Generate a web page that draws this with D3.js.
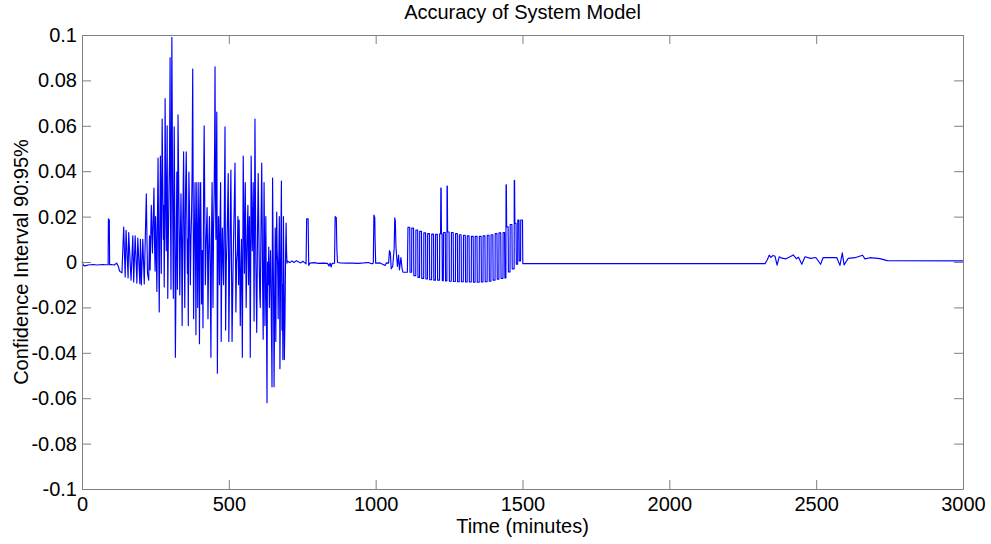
<!DOCTYPE html>
<html>
<head>
<meta charset="utf-8">
<script src="https://cdn.jsdelivr.net/npm/d3@7/dist/d3.min.js"></script>
<style>
    body { margin: 0; background: #fff; }
    text { font-family: "Liberation Sans", Arial, Helvetica, sans-serif; fill: #000; }
</style>
</head>
<body>
<div id="canvas"></div>
<script>
// chart text
var titleText = "Accuracy of System Model";
var xLabelText = "Time (minutes)";
var yLabelText = "Confidence Interval 90:95%";

// ticks
var xTicks = [0, 500, 1000, 1500, 2000, 2500, 3000];
var xTickLabels = ["0", "500", "1000", "1500", "2000", "2500", "3000"];
var yTicks = [-0.1, -0.08, -0.06, -0.04, -0.02, 0, 0.02, 0.04, 0.06, 0.08, 0.1];
var yTickLabels = ["-0.1", "-0.08", "-0.06", "-0.04", "-0.02", "0", "0.02", "0.04", "0.06", "0.08", "0.1"];

// series, [minutes, value]
var startSegment = [[0,0.0002],[5,-0.0015],[10,-0.0017],[20,-0.0013],[30,-0.0012],[40,-0.0011],[50,-0.0013],
    [60,-0.0012],[70,-0.0011],[80,-0.0012],[89,-0.0012],[90,0.019],[93,0.0185],[94,-0.0012],[100,-0.0011],
    [110,-0.0013],[118,-0.0005],[124,-0.002],[128,-0.004],[136,-0.0048]];

var earlyBusySegment = [[142,0.0154],[147,-0.0066],[150,0.014],[157,-0.007],[159,0.013],[167,-0.008],[173,0.0115],
    [176,-0.0088],[181,0.0115],[187,-0.0093],[190,0.0105],[197,-0.0095],[199,0.010],[202,-0.0101],[207,0.010],
    [212,-0.0097],[219,0.030],[223,-0.005],[227,-0.008],[230,0.0115],[232,-0.0035],[236,0.025],[240,0.004]];

var busySegment = [[245,0.0326],[247,0.008],[249,-0.004],[250.5,0.02],[252,0.013],[253.5,0.0],[255,-0.013],
    [257,0.02],[259,0.0458],[261,0.01],[263,-0.022],[265,0.015],[267,0.0467],[268.5,0.025],[270,-0.005],
    [271.5,0.03],[273,0.063],[275,0.035],[277,0.01],[278.5,0.025],[280,-0.011],[281.5,0.02],[283,0.072],
    [285,0.03],[287,0.005],[288.5,0.035],[290,0.060],[291,0.02],[292,-0.016],[294,0.01],[296,0.03],[298,0.045],
    [300,0.090],[301.5,0.02],[303,-0.012],[304.5,0.05],[306,0.099],[308.5,0.03],[311,-0.016],[312.5,0.025],
    [314,0.0595],[316,0.02],[318,-0.042],[320.5,0.0],[323,0.0396],[324,0.015],[325,-0.012],[326,0.03],
    [327,0.0648],[330,0.025],[333,-0.0145],[335,0.01],[337,0.03],[339,0.01],[341,-0.028],[343.5,0.02],
    [346,0.0485],[348,0.01],[350,-0.02],[352.5,0.03],[355,0.0485],[357,0.02],[359,-0.005],[360.5,0.01],
    [362,-0.028],[363,0.015],[364,0.0396],[366.5,0.02],[369,-0.01],[371,0.01],[373,0.02],[375,0.04],[377,0.085],
    [378.5,0.03],[380,-0.025],[382.5,0.01],[385,0.035],[386.5,0.005],[388,-0.032],[389.5,0.01],[391,0.035],
    [392.5,0.015],[394,-0.02],[396,0.01],[398,0.035],[399,0.0],[400,-0.036],[402,0.015],[404,0.035],[405.5,0.01],
    [407,-0.0185],[409.5,0.005],[412,-0.029],[414,0.03],[416,0.060],[418,0.025],[420,-0.01],[423,0.01],
    [426,0.024],[427.5,0.005],[429,-0.025],[431.5,0.005],[434,0.02],[436.5,0.0],[439,-0.042],[441,0.01],
    [443,0.035],[444.5,0.01],[446,-0.02],[448,0.015],[450,0.03],[451.5,0.05],[453,0.086],[454.5,0.03],[456,0.01],
    [457.5,0.04],[459,0.066],[460,0.02],[461,-0.049],[463,0.0],[465,0.02],[466.5,0.005],[468,-0.01],[470,0.015],
    [472,0.035],[473,0.01],[474,-0.035],[476,0.0],[478,0.015],[480,0.0],[482,-0.01],[484.5,0.02],[487,0.0595],
    [488,0.02],[489,-0.03],[491.5,0.0],[494,0.01],[496,0.025],[498,0.039],[499,0.01],[500,-0.035],[502,-0.01],
    [504,0.01],[505.5,0.025],[507,0.0405],[509,0.0],[511,-0.035],[513.5,-0.01],[516,0.01],[518.5,0.025],
    [521,0.0436],[522.5,0.01],[524,-0.022],[526.5,0.0],[529,0.005],[531,0.02],[533,-0.01],[534,0.005],
    [535,0.0185],[537,0.0],[539,-0.028],[541,-0.005],[543,0.01],[544.5,-0.015],[546,-0.042],[547.5,0.0],
    [549,0.0467],[551,0.02],[553,-0.005],[554.5,0.015],[556,0.035],[557.5,0.01],[559,-0.02],[561,0.0],
    [563,0.015],[565,0.025],[567,-0.01],[568.5,0.005],[570,0.02],[571.5,0.0],[573,-0.042],[574.5,0.0],
    [576,0.0467],[578,0.02],[580,0.005],[581.5,0.02],[583,0.035],[584.5,0.01],[586,-0.026],[587.5,0.02],
    [589,0.063],[590.5,0.03],[592,0.0],[593.5,-0.015],[595,-0.031],[597.5,0.01],[600,0.039],[602,0.015],
    [604,-0.005],[605.5,-0.015],[607,-0.02],[609.5,0.015],[612,0.0436],[613.5,0.02],[615,-0.01],[616,-0.02],
    [617,-0.034],[618.5,0.0],[620,0.035],[621.5,0.01],[623,-0.028],[624.5,-0.005],[626,0.02],[628,-0.02],
    [630,-0.062],[631,-0.02],[632,0.0],[634,-0.01],[636,0.0066],[637,-0.005],[638,-0.02],[640,-0.005],
    [642,0.005],[643.5,-0.01],[645,-0.03],[646,-0.04],[647,-0.055],[648,0.0],[649,0.037],[650.5,0.01],
    [652,-0.01],[653,-0.03],[654,-0.055],[656,-0.02],[658,0.015],[659,-0.01],[660,-0.035],[661.5,0.0],
    [663,0.022],[664.5,0.005],[666,0.0],[667,-0.01],[668,-0.025],[670,0.0],[672,0.02],[673,-0.01],[674,-0.047],
    [676.5,0.0],[679,0.0357],[680,0.0],[681,-0.03],[682.5,-0.01],[684,-0.043],[685,-0.01],[686,0.02],
    [687.5,-0.01],[689,-0.043],[690,-0.035],[691,-0.027],[693,0.0],[695,0.0172],[696.5,0.005],[698,-0.0005]];

var quietSegment = [[700,0.0004],[708,-0.0003],[715,0.0005],[722,-0.0002],[730,0.0006],[738,0.0],[745,-0.0004],
    [752,0.0003],[760,-0.0005],[763,-0.0008],[765,0.019],[770,0.019],[772,-0.0015],[776,-0.0005],[790,-0.0003],
    [805,-0.0006],[820,-0.0005],[836,-0.0006],[841,-0.0018],[845,-0.0005],[848,-0.0022],[852,-0.0006],
    [860,-0.0005],[862,0.0200],[866,0.0195],[868,0.005],[870,-0.0002],[880,-0.0004],[900,-0.0005],[920,-0.0005],
    [940,-0.0006],[960,-0.0004],[975,-0.0002],[987,-0.0008],[992,-0.0004],[994,0.0207],[997,0.0195],[998,0.010],
    [1000,-0.0005],[1015,-0.0004],[1032,-0.0015],[1036,-0.0004],[1044,-0.0005],[1047,0.005],[1050,0.004],
    [1053,-0.003],[1058,-0.002],[1063,0.006],[1065,0.0195],[1067,0.018],[1069,0.007],[1074,-0.002],[1078,0.003],
    [1081,-0.0035],[1086,0.002],[1090,-0.003],[1093,-0.0045],[1108,-0.0045]];

var pulseSegment = [[1110,0.0153],[1116,0.0153],[1117,-0.0045],[1122.5,-0.0045],
    [1123,0.0149],[1129,0.0149],[1130,-0.006],[1136.5,-0.006],
    [1137,0.0141],[1143,0.0141],[1144,-0.0068],[1149.5,-0.0068],
    [1150,0.0135],[1156,0.0135],[1157,-0.0072],[1163.5,-0.0072],
    [1164,0.0128],[1170,0.0128],[1171,-0.0075],[1176.5,-0.0075],
    [1177,0.0125],[1183,0.0125],[1184,-0.0078],[1190.5,-0.0078],
    [1191,0.0123],[1197,0.0123],[1198,-0.008],[1203.5,-0.008],
    [1204,0.0122],[1210,0.0122],[1211,-0.008],[1217.5,-0.008],
    [1218,0.0124],[1221,0.0124],[1222,0.0326],[1223,0.0326],[1224,0.0124],[1226,0.0124],[1227,-0.0082],[1230.5,-0.0082],
    [1231,0.013],[1237,0.013],[1238,-0.0083],[1242.5,-0.0083],
    [1243,0.0335],[1244,0.0335],[1245,0.0132],[1250,0.0132],[1251,-0.0085],[1257.5,-0.0085],
    [1258,0.013],[1264,0.013],[1265,-0.0086],[1271.5,-0.0086],
    [1272,0.0125],[1278,0.0125],[1279,-0.0087],[1284.5,-0.0087],
    [1285,0.012],[1291,0.012],[1292,-0.0087],[1298.5,-0.0087],
    [1299,0.0118],[1305,0.0118],[1306,-0.0088],[1311.5,-0.0088],
    [1312,0.0115],[1318,0.0115],[1319,-0.0088],[1325.5,-0.0088],
    [1326,0.0113],[1332,0.0113],[1333,-0.0089],[1338.5,-0.0089],
    [1339,0.0113],[1345,0.0113],[1346,-0.0089],[1352.5,-0.0089],
    [1353,0.0113],[1359,0.0113],[1360,-0.0088],[1365.5,-0.0088],
    [1366,0.0115],[1372,0.0115],[1373,-0.0087],[1379.5,-0.0087],
    [1380,0.0118],[1386,0.0118],[1387,-0.0085],[1392.5,-0.0085],
    [1393,0.012],[1399,0.012],[1400,-0.008],[1406.5,-0.008],
    [1407,0.0125],[1413,0.0125],[1414,-0.0076],[1419.5,-0.0076],
    [1420,0.0128],[1426,0.0128],[1427,-0.0072],[1433.5,-0.0072],
    [1434,0.013],[1439,0.013],[1440,-0.007],[1443.5,-0.007],
    [1444,0.034],[1445,0.034],[1446,0.0155],[1451,0.0155],[1452,-0.0044],[1457.5,-0.0044],
    [1458,0.0165],[1464,0.0165],[1465,-0.003],[1471.5,-0.003],
    [1472,0.036],[1473,0.036],[1474,0.017],[1478,0.017],[1479,-0.001],[1483.5,-0.001],
    [1484,0.0185],[1488,0.0185],[1489,0.0005],[1493.5,0.0005],
    [1494,0.0185],[1500,0.0185],[1501,-0.0007]];

var tailSegment = [[2326,-0.0007],[2334,0.0011],[2340,0.003],[2346,0.002],[2353,0.0029],[2360,0.0025],
    [2367,-0.0014],[2374,0.0023],[2383,0.0017],[2397,0.0014],[2411,0.0023],[2422,0.0031],[2433,0.0014],
    [2440,0.0021],[2451,-0.001],[2462,0.0023],[2481,0.0016],[2499,0.002],[2515,-0.001],[2524,0.002],
    [2547,0.0019],[2570,0.002],[2581,-0.0015],[2589,0.004],[2595,-0.0013],[2609,0.0016],[2632,0.0019],
    [2658,0.003],[2666,0.0014],[2683,0.0019],[2717,0.0015],[2742,0.0006],[3000,0.0005]];

var series = startSegment.concat(earlyBusySegment, busySegment, quietSegment, pulseSegment, tailSegment);

// plot box (note: "top" is taken by window.top, so use other names)
var width = 991, height = 544;
var boxLeft = 82, boxRight = 963, boxTop = 35, boxBottom = 489;
var axisColor = "#808080";
var fontSize = 20;

var svg = d3.select('#canvas').append('svg')
    .attr('width', width)
    .attr('height', height);

var x = d3.scaleLinear().domain([0, 3000]).range([boxLeft, boxRight]);
var y = d3.scaleLinear().domain([-0.1, 0.1]).range([boxBottom, boxTop]);

// the data line
svg.append('path')
    .datum(series)
    .attr('fill', 'none')
    .attr('stroke', '#0000ff')
    .attr('stroke-width', 1.15)
    .attr('stroke-linejoin', 'round')
    .attr('d', d3.line()
        .x(function (d) { return x(d[0]); })
        .y(function (d) { return y(d[1]); }));

// axes, ticks pointing inward like matlab
var styleAxis = function (g) {
    g.selectAll('path, line').attr('stroke', axisColor);
    g.selectAll('text')
        .attr('font-family', '"Liberation Sans", Arial, Helvetica, sans-serif')
        .attr('font-size', fontSize)
        .attr('fill', '#000');
};

svg.append('g')
    .attr('transform', 'translate(0,' + boxBottom + ')')
    .call(d3.axisBottom(x).tickValues(xTicks)
        .tickFormat(function (d, i) { return xTickLabels[i]; })
        .tickSize(-9).tickSizeOuter(0).tickPadding(8))
    .call(styleAxis);

svg.append('g')
    .attr('transform', 'translate(' + boxLeft + ',0)')
    .call(d3.axisLeft(y).tickValues(yTicks)
        .tickFormat(function (d, i) { return yTickLabels[i]; })
        .tickSize(-9).tickSizeOuter(0).tickPadding(5))
    .call(styleAxis);

svg.append('g')
    .attr('transform', 'translate(0,' + boxTop + ')')
    .call(d3.axisTop(x).tickValues(xTicks).tickFormat(function () { return ''; })
        .tickSize(-9).tickSizeOuter(0))
    .call(styleAxis);

svg.append('g')
    .attr('transform', 'translate(' + boxRight + ',0)')
    .call(d3.axisRight(y).tickValues(yTicks).tickFormat(function () { return ''; })
        .tickSize(-9).tickSizeOuter(0))
    .call(styleAxis);

// title and labels
svg.append('text')
    .attr('x', (boxLeft + boxRight) / 2)
    .attr('y', 19)
    .attr('text-anchor', 'middle')
    .attr('font-size', fontSize)
    .text(titleText);

svg.append('text')
    .attr('x', (boxLeft + boxRight) / 2)
    .attr('y', 533)
    .attr('text-anchor', 'middle')
    .attr('font-size', fontSize)
    .text(xLabelText);

svg.append('text')
    .attr('transform', 'translate(28,' + ((boxTop + boxBottom) / 2) + ') rotate(-90)')
    .attr('text-anchor', 'middle')
    .attr('font-size', fontSize)
    .text(yLabelText);
</script>
</body>
</html>
